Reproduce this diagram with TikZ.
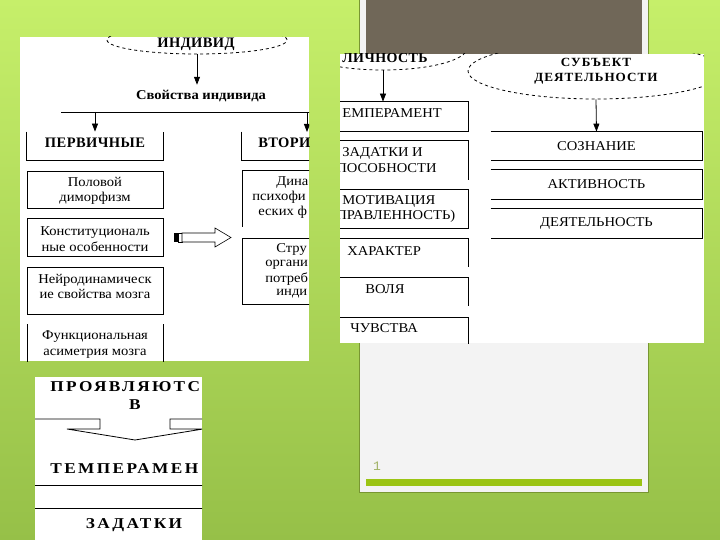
\documentclass[tikz,border=0pt]{standalone}
\usepackage{fontspec}
\setmainfont{Liberation Serif}[FakeStretch=1.08]
\newfontfamily\hdfont{Liberation Serif}[LetterSpace=3]
\newfontfamily\spfont{Liberation Serif}[LetterSpace=8,FakeStretch=1.05]
\newfontfamily\wdfont{Liberation Serif}[LetterSpace=16,FakeStretch=1.15]
\newfontfamily\numfont{Liberation Mono}
\usetikzlibrary{arrows.meta,shapes.geometric}
\definecolor{bgtop}{RGB}{198,239,106}
\definecolor{bgbot}{RGB}{150,192,72}
\definecolor{cardfill}{RGB}{243,243,243}
\definecolor{cardedge}{RGB}{120,150,50}
\definecolor{cardgray}{RGB}{112,103,88}
\definecolor{cardbar}{RGB}{155,196,20}
\definecolor{pagenum}{RGB}{160,178,100}
\tikzset{
  txt/.style={font=\fontsize{13.5}{15.5}\selectfont, inner sep=0pt, align=center},
  hd/.style={font=\hdfont\bfseries\fontsize{14.5}{16}\selectfont, inner sep=0pt, align=center},
  big/.style={font=\wdfont\bfseries\fontsize{15}{17}\selectfont, inner sep=0pt},
  cell/.style={inner sep=0pt, minimum width=#1},
  oval/.style={draw, dashed, ellipse, inner sep=0pt}
}
\begin{document}
\begin{tikzpicture}[x=1pt,y=-1pt,line width=0.8pt,>={Triangle[width=6pt,length=8pt]}]
\useasboundingbox (0,0) rectangle (720,540);
% background
\shade[top color=bgtop,bottom color=bgbot] (0,0) rectangle (720,540);
% slide card
\draw[cardedge,fill=cardfill] (359,-2) rectangle (648,492);
\fill[cardgray] (366,-2) rectangle (642,54);
\fill[cardbar] (366,479) rectangle (642,486);
\node[font=\numfont\fontsize{13}{15}\selectfont,text=pagenum,inner sep=0pt] (pg) at (377,466) {1};

% left sheet
\fill[white] (20,37) rectangle (309,361);
\begin{scope}
\clip (20,37) rectangle (309,361);
\node[oval,minimum width=180,minimum height=28] (indiv) at (197,40) {};
\node[hd] (indivt) at (196,44.5) {ИНДИВИД};
\node[font=\bfseries\fontsize{13.5}{15}\selectfont,inner xsep=0pt,inner ysep=5pt] (props) at (201,96) {Свойства индивида};
\draw[->] (indiv.south) -- (indiv.south |- props.north);
% branch line
\coordinate (brl) at (61,112);
\coordinate (brr) at (330,112);
\draw (brl) -- (brr);
% primary / secondary heads
\node[cell=136,minimum height=28] (prim) at (95,146) {};
\node[hd] (primt) at (95,143) {ПЕРВИЧНЫЕ};
\draw (prim.north west) -- (prim.south west) -- (prim.south east) -- (prim.north east);
\draw[->] (brl -| prim.north) -- (prim.north);
\node[cell=136,minimum height=28] (sec) at (310,146) {};
\node[hd,anchor=west] (sect) at (258,143) {ВТОРИ};
\draw (sec.north west) -- (sec.south west) -- (sec.south east);
\coordinate (sectop) at (307,132);
\draw[->] (brl -| sectop) -- (sectop);
% left column
\draw (27,171) rectangle (163,208);
\node[txt] (b1) at (95,191) {Половой\\диморфизм};
\draw (27,218) rectangle (163,256);
\node[txt] (b2) at (95,239) {Конституциональ\\ные особенности};
\draw (27,267) rectangle (163,314);
\node[txt] (b3) at (95,286.5) {Нейродинамическ\\ие свойства мозга};
\draw (27,324) -- (27,362);
\draw (163,324) -- (163,362);
\node[txt] (b4) at (95,344.5) {Функциональная\\асиметрия мозга};
% right column
\draw (320,170) -- (242,170) -- (242,227);
\node[txt,anchor=west] (c1a) at (276,183) {Дина};
\node[txt,anchor=west] (c1b) at (252,197) {психофи};
\node[txt,anchor=west] (c1c) at (258,212) {еских ф};
\draw (320,238) -- (242,238) -- (242,304) -- (320,304);
\node[txt,anchor=west] (c2a) at (276,249) {Стру};
\node[txt,anchor=west] (c2b) at (265,265) {органи};
\node[txt,anchor=west] (c2c) at (265,279) {потреб};
\node[txt,anchor=west] (c2d) at (276,294) {инди};
\end{scope}
% block arrow
\fill (174,233) rectangle (178,242);
\draw[line width=0.6pt] (178,233) rectangle (182,242);
\draw[line width=0.6pt,fill=white] (182,233) -- (215,233) -- (215,228) -- (231,237.5) -- (215,247) -- (215,242) -- (182,242) -- cycle;

% right sheet
\fill[white] (340,54) rectangle (704,343);
\begin{scope}
\clip (340,54) rectangle (704,343);
\node[oval,minimum width=168,minimum height=44] (pers) at (383,48) {};
\node[hd,anchor=west,font=\hdfont\bfseries\fontsize{14}{16}\selectfont] (perst) at (342,58) {ЛИЧНОСТЬ};
\node[oval,minimum width=256,minimum height=56,font=\spfont\bfseries\fontsize{12.5}{15}\selectfont,align=center] (subj) at (596,71) {СУБЪЕКТ\\ДЕЯТЕЛЬНОСТИ};
% left column
\node[cell=148,minimum height=29] (temp) at (394,116.5) {};
\draw (temp.north west) -- (temp.north east) -- (temp.south east) -- (temp.south west);
\node[txt,anchor=west] (tempt) at (342,113) {ЕМПЕРАМЕНТ};
\draw[->] (pers.south) -- (pers.south |- temp.north);
\draw (320,140) -- (468,140) -- (468,180);
\node[txt,anchor=west] (zada) at (342,153) {ЗАДАТКИ И};
\node[txt,anchor=west] (zadb) at (336,168) {ПОСОБНОСТИ};
\draw (320,189) -- (468,189) -- (468,228) -- (320,228);
\node[txt,anchor=west] (mota) at (342,201) {МОТИВАЦИЯ};
\node[txt,anchor=west] (motb) at (336,216) {ПРАВЛЕННОСТЬ)};
\draw (320,238) -- (468,238) -- (468,267);
\node[txt,anchor=west] (chart) at (347,251) {ХАРАКТЕР};
\draw (320,277) -- (468,277) -- (468,306);
\node[txt,anchor=west] (volt) at (365,289) {ВОЛЯ};
\draw (320,317) -- (468,317) -- (468,345);
\node[txt,anchor=west] (feelt) at (350,328) {ЧУВСТВА};
% right column
\node[txt,cell=211,minimum height=28] (consc) at (596.5,146) {СОЗНАНИЕ};
\draw (consc.north west) -- (consc.north east) -- (consc.south east) -- (consc.south west);
\draw[->] (subj.south) -- (consc.north);
\node[txt,cell=211,minimum height=29] (activ) at (596.5,184.5) {АКТИВНОСТЬ};
\draw (activ.north west) -- (activ.north east) -- (activ.south east) -- (activ.south west);
\node[txt,cell=211,minimum height=29] (deyat) at (596.5,223.5) {ДЕЯТЕЛЬНОСТЬ};
\draw (deyat.north west) -- (deyat.north east) -- (deyat.south east) -- (deyat.south west);
\end{scope}

% lower sheet
\fill[white] (35,377) rectangle (202,540);
\begin{scope}
\clip (35,377) rectangle (202,540);
\node[big,anchor=west] (showt) at (50,387) {ПРОЯВЛЯЮТС};
\node[big] (int) at (135,405) {В};
\draw (35,419) -- (100,419) -- (100,429) -- (67,429) -- (135,440) -- (203,429) -- (170,429) -- (170,419) -- (204,419);
\node[big,anchor=west] (tempb) at (50,469) {ТЕМПЕРАМЕН};
\draw (35,485) -- (204,485);
\draw (35,508) -- (204,508);
\node[big] (zadb2) at (134,525) {ЗАДАТКИ};
\end{scope}
\end{tikzpicture}
\end{document}
